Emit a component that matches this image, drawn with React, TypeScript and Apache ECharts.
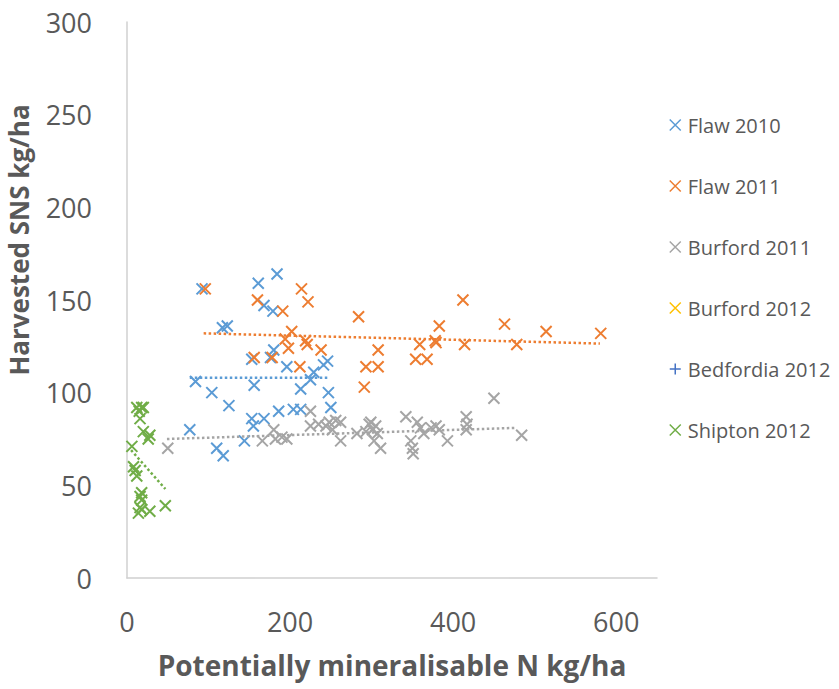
import React, { useEffect, useRef } from "react";
import * as echarts from "echarts";

// ---- data ----
const seriesNames = ["Flaw 2010", "Flaw 2011", "Burford 2011", "Burford 2012", "Bedfordia 2012", "Shipton 2012"];
const seriesColors = ["#5B9BD5", "#ED7D31", "#A5A5A5", "#FFC000", "#4472C4", "#70AD47"];

const flaw2010: number[][] = [
  [161, 159], [184, 164], [168, 147], [179, 144], [92, 156], [117, 135], [123, 136], [180, 123],
  [153, 118], [176, 119], [196, 114], [241, 115], [246, 117], [229, 111], [225, 107], [84, 106],
  [156, 104], [213, 102], [104, 100], [247, 100], [125, 93], [250, 92], [186, 90], [204, 91],
  [213, 91], [153, 86], [168, 86], [155, 82], [77, 80], [144, 74], [110, 70], [118, 66],
];
const flaw2011: number[][] = [
  [96, 156], [214, 156], [222, 149], [160, 150], [191, 144], [284, 141], [202, 133], [194, 129],
  [219, 128], [221, 126], [198, 124], [238, 123], [156, 119], [178, 119], [212, 114], [308, 123],
  [293, 114], [308, 114], [291, 103], [412, 150], [383, 136], [463, 137], [514, 133], [581, 132],
  [359, 126], [378, 128], [379, 127], [414, 126], [478, 126], [354, 118], [368, 118],
];
const burford2011: number[][] = [
  [50, 70], [166, 74], [180, 80], [182, 75], [190, 76], [196, 75], [225, 90], [225, 82],
  [235, 83], [244, 82], [248, 84], [256, 85], [262, 84], [252, 80], [262, 74], [282, 78],
  [297, 83], [301, 80], [305, 82], [293, 79], [307, 78], [299, 84], [303, 74], [311, 70],
  [342, 87], [356, 84], [360, 81], [348, 74], [350, 70], [351, 67], [364, 78], [373, 81],
  [379, 82], [383, 80], [393, 74], [416, 87], [417, 83], [416, 80], [450, 97], [484, 77],
];
const burford2012: number[][] = [];
const bedfordia2012: number[][] = [];
const shipton2012: number[][] = [
  [12, 92], [18, 92], [15, 90], [20, 92], [16, 86], [20, 79], [28, 77], [26, 75], [6, 71],
  [8, 60], [10, 58], [12, 55], [18, 46], [16, 44], [18, 42], [16, 38], [18, 37], [28, 36],
  [14, 35], [47, 39],
];

// dotted linear trend lines (end points)
const trendFlaw2010: number[][] = [[77, 108], [246, 108]];
const trendFlaw2011: number[][] = [[94, 132], [580, 126.5]];
const trendBurford2011: number[][] = [[49, 75], [477, 81]];
const trendShipton2012: number[][] = [[5, 69], [47, 48]];

const xTicks = [0, 200, 400, 600];
const yTicks = [0, 50, 100, 150, 200, 250, 300];

const CROSS = "path://M0,0L10,10M10,0L0,10";
const PLUS = "path://M5,0L5,10M0,5L10,5";
const FONT = "'Open Sans', 'Noto Sans', sans-serif";

export default function App() {
  const ref = useRef<HTMLDivElement>(null);
  useEffect(() => {
    if (!ref.current) return;
    const chart = echarts.init(ref.current, undefined, { renderer: "svg" });
    const pointSets = [flaw2010, flaw2011, burford2011, burford2012, bedfordia2012, shipton2012];
    const symbols = [CROSS, CROSS, CROSS, CROSS, PLUS, CROSS];
    const scatter = pointSets.map((d, i) => ({
      name: seriesNames[i],
      type: "scatter",
      data: d,
      symbol: symbols[i],
      symbolSize: 11,
      itemStyle: { color: seriesColors[i], borderColor: seriesColors[i], borderWidth: 2, opacity: 1 },
      z: 3,
    }));
    const trends = [
      [trendFlaw2010, 0],
      [trendFlaw2011, 1],
      [trendBurford2011, 2],
      [trendShipton2012, 5],
    ].map(([d, i]: any) => ({
      name: seriesNames[i] + " trend",
      type: "line",
      data: d,
      symbol: "none",
      silent: true,
      lineStyle: { color: seriesColors[i], width: 2.5, type: [2.5, 2.5] },
      z: 4,
    }));
    chart.setOption({
      animation: false,
      backgroundColor: "#ffffff",
      textStyle: { fontFamily: FONT },
      grid: { left: 127, top: 22, right: 182, bottom: 111, containLabel: false },
      xAxis: {
        type: "value",
        min: xTicks[0],
        max: 650,
        interval: xTicks[1] - xTicks[0],
        name: "Potentially mineralisable N kg/ha",
        nameLocation: "middle",
        nameGap: 73,
        nameTextStyle: { fontFamily: FONT, fontSize: 28, fontWeight: "bold", color: "#595959" },
        axisLine: { show: true, lineStyle: { color: "#D0D0D0", width: 1.5 } },
        axisTick: { show: false },
        splitLine: { show: false },
        axisLabel: {
          fontFamily: FONT,
          fontSize: 27,
          color: "#595959",
          margin: 30,
          showMaxLabel: false,
          formatter: (v: number) => (xTicks.includes(v) ? String(v) : ""),
        },
      },
      yAxis: {
        type: "value",
        min: yTicks[0],
        max: yTicks[yTicks.length - 1],
        interval: yTicks[1] - yTicks[0],
        axisLine: { show: true, lineStyle: { color: "#D0D0D0", width: 1.5 } },
        axisTick: { show: false },
        splitLine: { show: false },
        axisLabel: { fontFamily: FONT, fontSize: 27, color: "#595959", margin: 35 },
      },
      legend: {
        orient: "vertical",
        left: 664,
        top: 110,
        itemGap: 41,
        itemWidth: 11,
        itemHeight: 11,
        textStyle: { fontFamily: FONT, fontSize: 20, color: "#595959", padding: [0, 0, 0, 2] },
        data: seriesNames.map((n, i) => ({
          name: n,
          icon: symbols[i],
          itemStyle: { color: seriesColors[i], borderColor: seriesColors[i], borderWidth: 1.5 },
        })),
      },
      graphic: [
        {
          type: "text",
          x: 19,
          y: 240,
          rotation: Math.PI / 2,
          style: {
            text: "Harvested SNS kg/ha",
            fontFamily: FONT,
            fontSize: 26,
            fontWeight: "bold",
            fill: "#595959",
            align: "center",
            verticalAlign: "middle",
          },
        },
      ],
      series: [...scatter, ...trends],
    });
    return () => chart.dispose();
  }, []);
  return <div ref={ref} style={{ width: 839, height: 689, position: "absolute", left: 0, top: 0 }} />;
}
